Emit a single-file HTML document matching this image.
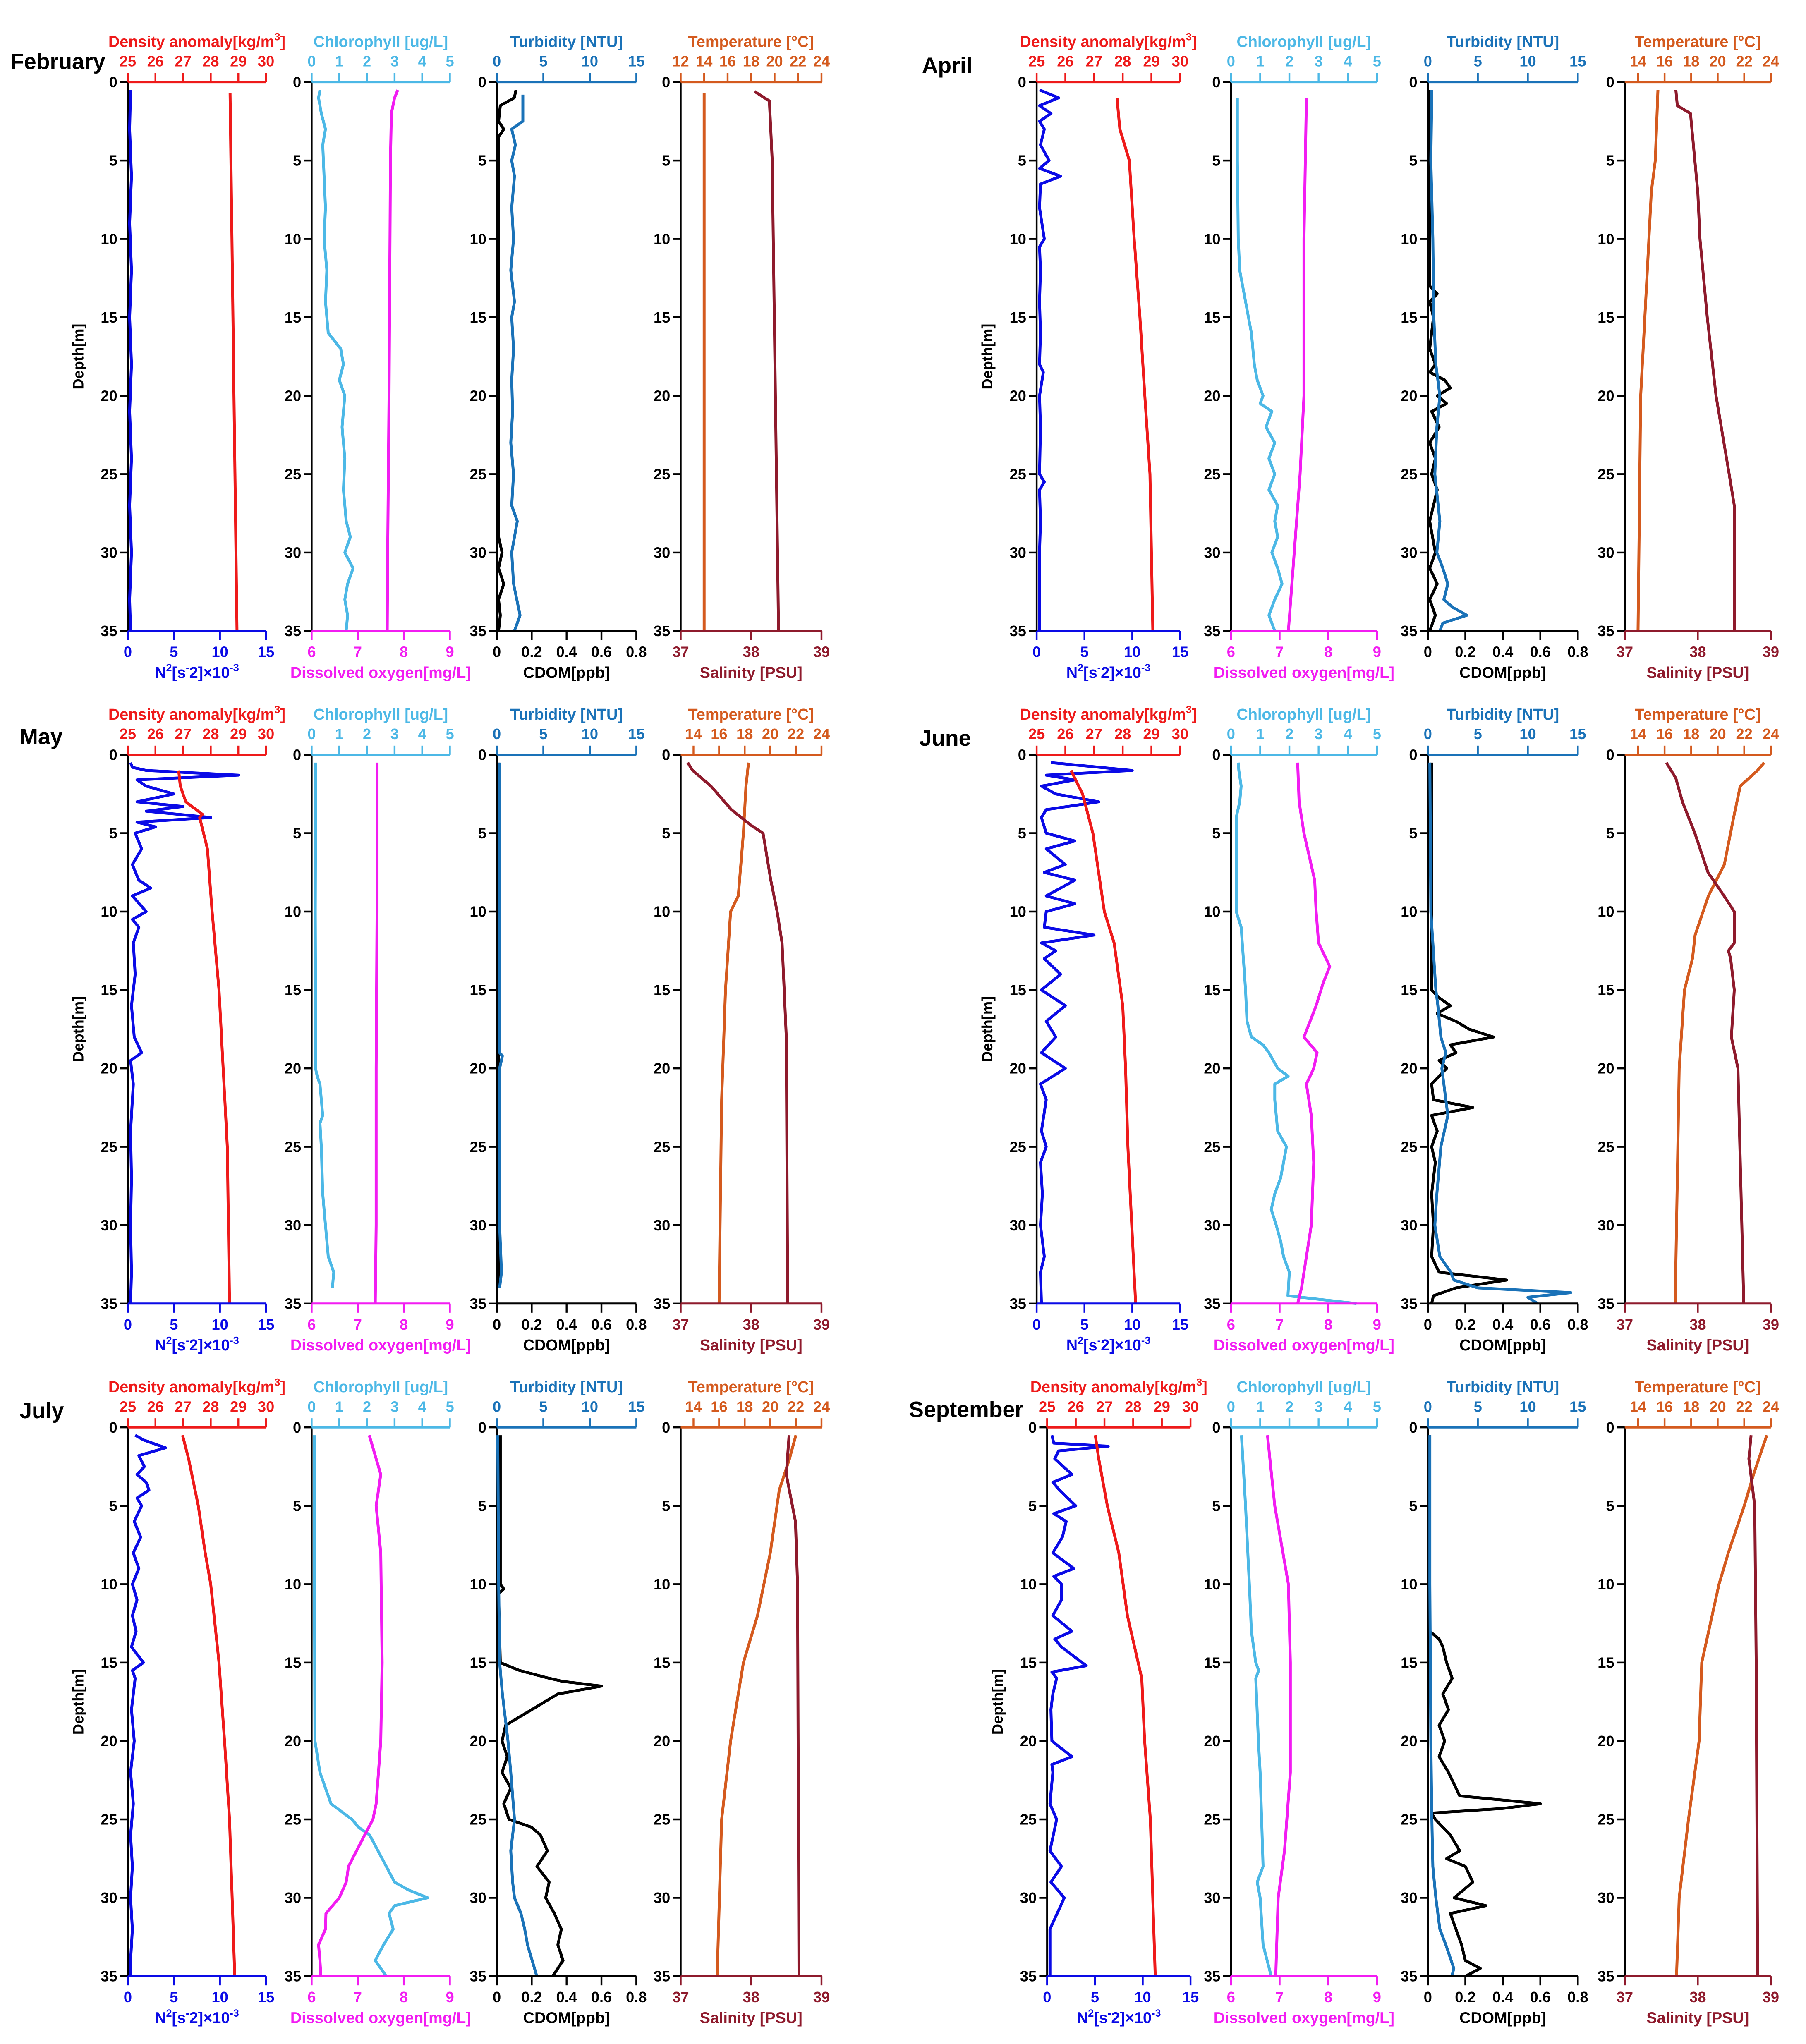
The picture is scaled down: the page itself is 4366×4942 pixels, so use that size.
<!DOCTYPE html>
<html>
<head>
<meta charset="utf-8">
<style>
html,body{margin:0;padding:0;background:#fff;}
svg{display:block;}
text{font-family:"Liberation Sans Narrow","Liberation Sans",sans-serif;font-weight:bold;}
</style>
</head>
<body>
<svg id="chart" xmlns="http://www.w3.org/2000/svg" width="4366" height="4942" viewBox="0 0 1385 1568" preserveAspectRatio="none">
<rect x="0" y="0" width="1385" height="1568" fill="#fff"/>
</svg>
<script>
// ---------- DATA (depth arrays in m, values in physical units) ----------
const febN2D=[0.5,3,6,9,12,15,18,21,24,27,30,33,35];
const febN2=[0.3,0.2,0.4,0.2,0.4,0.2,0.4,0.2,0.4,0.2,0.4,0.2,0.3];
const febDensD=[0.7,35];
const febDens=[28.7,28.95];
const febChlD=[0.5,1,2,3,4,6,8,10,12,14,16,17,18,19,20,22,24,26,28,29,30,31,32,33,34,35];
const febChl=[0.3,0.25,0.35,0.5,0.4,0.45,0.5,0.45,0.55,0.5,0.6,1.05,1.15,1.0,1.2,1.1,1.2,1.15,1.25,1.4,1.2,1.5,1.3,1.2,1.3,1.25];
const febDOD=[0.5,1,2,5,10,20,30,35];
const febDO=[7.87,7.8,7.73,7.71,7.7,7.68,7.65,7.64];
const febTurbD=[0.8,1.5,2.5,3,4,5,6,8,10,12,14,15,17,19,21,23,25,27,28,30,32,34,35];
const febTurb=[2.8,2.8,2.8,1.6,2,1.6,1.9,1.6,1.8,1.5,1.9,1.6,1.8,1.6,1.7,1.5,1.8,1.6,2.2,1.6,1.8,2.5,1.9];
const febCdomD=[0.5,1,1.5,2.5,3,3.5,5,10,15,20,25,29,30,31,32,33,34,35];
const febCdom=[0.11,0.1,0.02,0.01,0.04,0.01,0.01,0.01,0.01,0.01,0.01,0.01,0.03,0.01,0.04,0.01,0.02,0.01];
const febTempD=[0.7,35];
const febTemp=[14,14];
const febSalD=[0.6,1.2,5,15,25,35];
const febSal=[38.05,38.26,38.3,38.33,38.36,38.39];

const aprN2D=[0.5,1,1.5,2,2.5,3,4,5,5.5,6,6.5,8,10,10.5,12,14,16,18,18.5,20,22,25,25.5,26,28,30,33,35];
const aprN2=[0.3,2.3,0.3,1.5,0.3,0.8,0.4,1.3,0.3,2.5,0.4,0.3,0.8,0.3,0.4,0.3,0.4,0.3,0.7,0.3,0.4,0.3,0.8,0.3,0.4,0.3,0.3,0.3];
const aprDensD=[1,3,5,10,15,20,25,35];
const aprDens=[27.8,27.9,28.23,28.4,28.6,28.77,28.95,29.05];
const aprChlD=[1,5,10,12,14,16,18,19,20,20.5,21,22,23,24,25,26,27,28,29,30,31,32,33,34,35];
const aprChl=[0.22,0.22,0.25,0.3,0.5,0.7,0.8,0.9,1.1,1.0,1.4,1.2,1.5,1.3,1.5,1.3,1.6,1.5,1.6,1.4,1.6,1.75,1.5,1.3,1.5];
const aprDOD=[1,10,20,25,30,35];
const aprDO=[7.55,7.5,7.5,7.42,7.3,7.18];
const aprTurbD=[0.5,5,10,15,18,20,22,25,28,30,31,32,33,33.5,34,34.5,35];
const aprTurb=[0.4,0.3,0.5,0.6,0.8,1.2,0.9,0.7,1.2,0.9,1.5,2.0,1.6,2.5,3.9,1.5,1.2];
const aprCdomD=[0.5,10,13,13.5,14,15,17,18,18.5,19,19.5,20,20.5,21,22,23,24,25,26,28,30,31,32,33,34,35];
const aprCdom=[0.01,0.01,0.01,0.05,0.01,0.03,0.01,0.04,0.01,0.09,0.12,0.05,0.1,0.02,0.06,0.01,0.04,0.02,0.05,0.01,0.04,0.01,0.05,0.01,0.04,0.01];
const aprTempD=[0.5,5,7,12,20,35];
const aprTemp=[15.5,15.3,15.0,14.7,14.2,14.0];
const aprSalD=[0.5,1.5,2,5,7,10,15,20,25,27,35];
const aprSal=[37.7,37.72,37.9,37.96,38.0,38.03,38.13,38.25,38.43,38.5,38.5];

const mayN2D=[0.5,0.8,1,1.3,1.6,2,2.5,3,3.3,3.6,4,4.3,4.6,5,6,7,8,8.5,9,10,10.5,11,12,14,16,18,19,19.5,21,24,27,30,33,35];
const mayN2=[0.3,0.5,2,12,1,2,5,1,6,2,9,1,3,0.8,1.5,0.5,1.2,2.5,0.5,2,0.5,1.2,0.6,0.8,0.4,0.7,1.5,0.3,0.6,0.3,0.4,0.3,0.4,0.3];
const mayDensD=[1,2,3,3.8,4,6,10,15,20,25,35];
const mayDens=[26.84,26.9,27.1,27.7,27.6,27.88,28.05,28.3,28.45,28.6,28.68];
const mayChlD=[0.5,5,10,15,20,20.5,21,23,23.5,25,28,30,32,33,34];
const mayChl=[0.14,0.14,0.13,0.14,0.14,0.2,0.3,0.4,0.3,0.35,0.4,0.5,0.6,0.8,0.75];
const mayDOD=[0.5,10,20,30,35];
const mayDO=[7.42,7.42,7.4,7.4,7.38];
const mayTurbD=[0.5,10,19,19.2,20,30,33,34];
const mayTurb=[0.3,0.3,0.3,0.6,0.3,0.3,0.5,0.3];
const mayCdomD=[0.5,34];
const mayCdom=[0.01,0.01];
const mayTempD=[0.5,2,5,9,10,15,22,35];
const mayTemp=[18.3,18.1,17.9,17.5,16.9,16.5,16.2,16.0];
const maySalD=[0.5,1,2,3.5,4.5,5,8,10,12,18,35];
const maySal=[37.1,37.17,37.43,37.72,38.0,38.17,38.28,38.37,38.44,38.5,38.52];

const junN2D=[0.5,1,1.3,1.6,2,2.5,3,3.5,4,5,5.5,6,7,7.5,8,9,9.5,10,11,11.5,12,12.5,13,14,15,16,17,18,19,20,21,22,24,25,26,28,30,32,33,35];
const junN2=[1.5,10,1,4,0.5,2,6.5,1,0.5,1,4,1,3,0.8,4,1,4,1,0.8,6,0.5,2,0.8,2.5,0.5,3,1,2,0.5,3,0.4,1,0.5,1,0.4,0.6,0.4,0.8,0.4,0.5];
const junDensD=[1,2.5,5,8,10,12,16,20,25,35];
const junDens=[26.2,26.6,26.96,27.2,27.36,27.7,28.0,28.1,28.18,28.45];
const junChlD=[0.5,1,2,3,4,10,11,15,17,18,18.5,19,20,20.5,21,22,24,25,27,28,29,30,31,32,33,34.5,35];
const junChl=[0.25,0.27,0.35,0.3,0.18,0.18,0.35,0.5,0.55,0.7,1.1,1.3,1.6,1.96,1.5,1.5,1.6,1.9,1.7,1.5,1.38,1.55,1.7,1.8,2.0,1.95,4.3];
const junDOD=[0.5,3,5,8,10,12,13.5,14.5,16,18,19,20,21,23,26,30,33,34,35];
const junDO=[7.37,7.4,7.5,7.72,7.75,7.8,8.03,7.9,7.75,7.5,7.77,7.7,7.55,7.65,7.7,7.65,7.5,7.45,7.37];
const junTurbD=[0.5,10,15,16,18,19,20,23,25,28,30,32,33,33.5,34,34.3,34.6,35];
const junTurb=[0.2,0.3,0.8,1.0,1.3,1.8,1.4,2.0,1.3,0.9,0.7,1.2,2.3,2.6,5,14.3,10,11];
const junCdomD=[0.5,15,15.5,16,16.5,17,17.5,18,18.5,19,19.5,20,21,22,22.5,23,24,25,26,28,30,32,33,33.5,34,34.5,35];
const junCdom=[0.02,0.02,0.06,0.12,0.05,0.15,0.22,0.35,0.12,0.15,0.06,0.1,0.02,0.03,0.24,0.02,0.05,0.02,0.04,0.02,0.03,0.02,0.06,0.42,0.15,0.03,0.02];
const junTempD=[0.5,1,2,4,7,9,11.5,13,15,20,25,35];
const junTemp=[23.5,23.0,21.7,21.2,20.5,19.3,18.3,18.1,17.5,17.1,17.0,16.8];
const junSalD=[0.5,1.5,3,5,7.5,9,10,12,12.5,13,15,18,20,35];
const junSal=[37.57,37.7,37.79,37.96,38.14,38.36,38.5,38.5,38.42,38.45,38.5,38.46,38.55,38.63];

const julN2D=[0.5,0.8,1.3,1.8,2.5,3,3.5,4,4.5,5,6,7,8,9,10,11,12,13,14,15,15.5,16,18,20,22,24,26,28,30,32,34,35];
const julN2=[0.8,1.7,4.1,1.2,1.8,1.0,2.0,2.3,1.0,1.5,0.7,1.4,0.6,1.2,0.5,1.0,0.5,0.9,0.4,1.7,0.5,0.8,0.4,0.7,0.3,0.6,0.3,0.5,0.3,0.5,0.3,0.3];
const julDensD=[0.5,2,5,8,10,15,20,25,35];
const julDens=[26.98,27.2,27.55,27.8,28.0,28.3,28.5,28.68,28.87];
const julChlD=[0.5,10,20,22,23,24,25,25.5,26,27,28,29,29.5,30,30.5,31,32,33,34,35];
const julChl=[0.1,0.1,0.12,0.3,0.5,0.7,1.46,1.7,2.1,2.4,2.7,3.0,3.5,4.2,3.0,2.8,2.95,2.6,2.3,2.7];
const julDOD=[0.5,3,5,8,15,20,24,25,26,28,29,30,31,32,33,34,35];
const julDO=[7.25,7.5,7.4,7.5,7.53,7.5,7.4,7.33,7.15,6.8,6.75,6.6,6.31,6.3,6.15,6.18,6.2];
const julTurbD=[0.5,10,15,17,19,20,22,25,27,29,30,31,32,33,34,35];
const julTurb=[0.1,0.2,0.3,0.6,1.0,1.2,1.5,1.9,1.5,1.7,1.9,2.6,3.0,3.3,3.8,4.3];
const julCdomD=[0.5,10,10.3,10.6,15,15.5,16,16.2,16.5,17,18,19,20,21,22,23,24,25,25.5,26,27,28,29,30,31,32,33,34,35];
const julCdom=[0.02,0.02,0.04,0.01,0.02,0.13,0.3,0.38,0.6,0.35,0.2,0.05,0.03,0.06,0.03,0.08,0.04,0.07,0.2,0.25,0.29,0.23,0.3,0.28,0.33,0.37,0.35,0.38,0.32];
const julTempD=[0.5,2,4,8,12,15,20,25,35];
const julTemp=[22.0,21.5,20.7,20.0,19.0,17.9,16.9,16.2,15.85];
const julSalD=[0.5,3,6,10,35];
const julSal=[38.54,38.5,38.63,38.66,38.68];

const sepN2D=[0.5,1,1.2,1.5,2,3,3.5,4,5,5.5,6,7,8,9,9.5,10,11,12,13,13.5,14,15.2,15.6,16,17,18,20,21,21.5,22,24,25,27,28,29,30,32,35];
const sepN2=[0.5,0.7,6.4,1.2,0.8,2.6,0.6,1.3,3.0,0.7,2.0,1.6,0.6,2.8,0.7,1.5,1.5,0.6,2.6,0.8,1.5,4.1,0.5,1.0,0.6,0.4,0.5,2.6,0.5,0.6,0.3,1.0,0.3,1.5,0.4,1.8,0.3,0.3];
const sepDensD=[0.5,2,5,8,12,16,20,25,35];
const sepDens=[26.68,26.8,27.1,27.5,27.8,28.3,28.4,28.6,28.77];
const sepChlD=[0.5,5,10,13,15,15.5,16,20,22,25,28,29,30,33,35];
const sepChl=[0.36,0.5,0.63,0.7,0.85,0.95,0.85,0.94,1.0,1.05,1.1,0.9,1.0,1.1,1.38];
const sepDOD=[0.5,5,10,15,22,27,30,35];
const sepDO=[6.75,6.9,7.18,7.22,7.22,7.1,6.97,6.92];
const sepTurbD=[0.5,10,20,25,28,30,32,33,34.5,35];
const sepTurb=[0.2,0.2,0.3,0.4,0.5,0.8,1.2,1.8,2.6,2.4];
const sepCdomD=[0.5,13,13.5,14,15,16,17,18,19,20,21,22,23,23.5,24,24.3,24.6,25,26,27,27.5,28,29,30,30.5,31,32,33,34,34.5,35];
const sepCdom=[0.01,0.01,0.06,0.08,0.1,0.13,0.08,0.11,0.06,0.09,0.06,0.11,0.15,0.17,0.6,0.4,0.02,0.04,0.12,0.17,0.1,0.2,0.24,0.14,0.31,0.12,0.15,0.18,0.2,0.28,0.2];
const sepTempD=[0.5,3,5,8,10,15,20,25,30,35];
const sepTemp=[23.7,22.7,22.0,20.8,20.1,18.8,18.6,17.8,17.1,16.9];
const sepSalD=[0.5,2,5,15,35];
const sepSal=[38.73,38.7,38.78,38.8,38.82];

const depthTicks=[0,5,10,15,20,25,30,35];
const densTicks=[25,26,27,28,29,30];
const n2Ticks=[0,5,10,15];
const chlTicks=[0,1,2,3,4,5];
const doTicks=[6,7,8,9];
const turbTicks=[0,5,10,15];
const cdomTicks=[0,0.2,0.4,0.6,0.8];
const tempTicksFeb=[12,14,16,18,20,22,24];
const tempTicks=[14,16,18,20,22,24];
const salTicks=[37,38,39];

// ---------- DRAWING ----------
const NS='http://www.w3.org/2000/svg';
const svg=document.getElementById('chart');
function mk(tag,attrs,parent){const e=document.createElementNS(NS,tag);for(const k in attrs)e.setAttribute(k,attrs[k]);(parent||svg).appendChild(e);return e;}

const C={n2:'#0a0ae6',dens:'#ee1a1a',chl:'#4cb8e6',dox:'#f21cf2',turb:'#1a72b8',cdom:'#000000',temp:'#d45a1e',sal:'#8e1a2c'};
const H=421;

function depthY(y0,d){return y0+d/35*H;}

function drawSub(g,x0,x1,y0,top,bot,series,showDepthLabel,depthLabelX){
  const sx=(ax,v)=>x0+(v-ax.min)/(ax.max-ax.min)*(x1-x0);
  const yb=y0+H;
  const la=mk('line',{x1:x0,y1:y0,x2:x0,y2:yb,stroke:'#000','stroke-width':1.4},g);
  
  
  depthTicks.forEach(t=>{
    const y=depthY(y0,t);
    const tl=mk('line',{x1:x0-6,y1:y,x2:x0,y2:y,stroke:'#000','stroke-width':1.4},g);
    
    
    const tx=mk('text',{x:x0-8,y:y+4,'text-anchor':'end','font-size':11.5,fill:'#000'},g);
    tx.textContent=t;
    
    
  });
  if(showDepthLabel){
    const dl=mk('text',{x:depthLabelX,y:y0+H/2,'text-anchor':'middle','font-size':11.5,fill:'#000',transform:`rotate(-90 ${depthLabelX} ${y0+H/2})`},g);
    dl.textContent='Depth[m]';
    
    
  }
  series.forEach(s=>{
    const ax=s.axis==='top'?top:bot;
    const pts=s.d.map((d,i)=>sx(ax,s.v[i]).toFixed(2)+','+depthY(y0,d).toFixed(2)).join(' ');
    const pl=mk('polyline',{points:pts,fill:'none',stroke:s.color,'stroke-width':2.2,'stroke-linejoin':'round'},g);
    
    
  });
  const ta=mk('line',{x1:x0,y1:y0,x2:x1,y2:y0,stroke:top.color,'stroke-width':1.6},g);
  
  
  top.ticks.forEach(t=>{
    const x=sx(top,t);
    const tl=mk('line',{x1:x,y1:y0,x2:x,y2:y0-7,stroke:top.color,'stroke-width':1.4},g);
    
    
    const tx=mk('text',{x:x,y:y0-12,'text-anchor':'middle','font-size':11.5,fill:top.color},g);
    tx.textContent=t;
    
    
  });
  const tt=mk('text',{x:(x0+x1)/2,y:y0-27,'text-anchor':'middle','font-size':12,fill:top.color},g);
  tt.innerHTML=top.label;
  
  
  const ba=mk('line',{x1:x0,y1:yb,x2:x1,y2:yb,stroke:bot.color,'stroke-width':1.6},g);
  
  
  bot.ticks.forEach(t=>{
    const x=sx(bot,t);
    const tl=mk('line',{x1:x,y1:yb,x2:x,y2:yb+7,stroke:bot.color,'stroke-width':1.4},g);
    
    
    const tx=mk('text',{x:x,y:yb+20,'text-anchor':'middle','font-size':11.5,fill:bot.color},g);
    tx.textContent=t;
    
    
  });
  const bt=mk('text',{x:(x0+x1)/2,y:yb+36,'text-anchor':'middle','font-size':12,fill:bot.color},g);
  bt.innerHTML=bot.label;
  
  
}

const LEFT=[[98,204],[239,345],[381,488],[522,630]];
const RIGHT=[[795,905],[944,1056],[1095,1210],[1246,1358]];
const SEPT=[[803,913],[944,1056],[1095,1210],[1246,1358]];
const ROWS=[63,579,1095];

const panels=[
 {key:'february',title:'February',tx:8,ty:53,row:0,cols:LEFT,dlx:64,feb:true,
  s:[febN2D,febN2,febDensD,febDens,febChlD,febChl,febDOD,febDO,febTurbD,febTurb,febCdomD,febCdom,febTempD,febTemp,febSalD,febSal]},
 {key:'april',title:'April',tx:707,ty:56,row:0,cols:RIGHT,dlx:761,
  s:[aprN2D,aprN2,aprDensD,aprDens,aprChlD,aprChl,aprDOD,aprDO,aprTurbD,aprTurb,aprCdomD,aprCdom,aprTempD,aprTemp,aprSalD,aprSal]},
 {key:'may',title:'May',tx:15,ty:571,row:1,cols:LEFT,dlx:64,
  s:[mayN2D,mayN2,mayDensD,mayDens,mayChlD,mayChl,mayDOD,mayDO,mayTurbD,mayTurb,mayCdomD,mayCdom,mayTempD,mayTemp,maySalD,maySal]},
 {key:'june',title:'June',tx:705,ty:572,row:1,cols:RIGHT,dlx:761,
  s:[junN2D,junN2,junDensD,junDens,junChlD,junChl,junDOD,junDO,junTurbD,junTurb,junCdomD,junCdom,junTempD,junTemp,junSalD,junSal]},
 {key:'july',title:'July',tx:15,ty:1088,row:2,cols:LEFT,dlx:64,
  s:[julN2D,julN2,julDensD,julDens,julChlD,julChl,julDOD,julDO,julTurbD,julTurb,julCdomD,julCdom,julTempD,julTemp,julSalD,julSal]},
 {key:'september',title:'September',tx:697,ty:1087,row:2,cols:SEPT,dlx:769,
  s:[sepN2D,sepN2,sepDensD,sepDens,sepChlD,sepChl,sepDOD,sepDO,sepTurbD,sepTurb,sepCdomD,sepCdom,sepTempD,sepTemp,sepSalD,sepSal]}
];

panels.forEach(p=>{
  const g=mk('g',{});
  
  
  const t=mk('text',{x:p.tx,y:p.ty,'font-size':17,fill:'#000'},g);
  t.textContent=p.title;
  
  
  const y0=ROWS[p.row];
  const s=p.s;
  const densAx={min:25,max:30,ticks:densTicks,color:C.dens,label:'Density anomaly[kg/m<tspan dy="-5" font-size="8">3</tspan><tspan dy="5">]</tspan>'};
  const n2Ax={min:0,max:15,ticks:n2Ticks,color:C.n2,label:'N<tspan dy="-5" font-size="8">2</tspan><tspan dy="5">[s</tspan><tspan dy="-5" font-size="8">-</tspan><tspan dy="5">2]×10</tspan><tspan dy="-5" font-size="8">-3</tspan>'};
  const chlAx={min:0,max:5,ticks:chlTicks,color:C.chl,label:'Chlorophyll [ug/L]'};
  const doAx={min:6,max:9,ticks:doTicks,color:C.dox,label:'Dissolved oxygen[mg/L]'};
  const turbAx={min:0,max:15,ticks:turbTicks,color:C.turb,label:'Turbidity [NTU]'};
  const cdomAx={min:0,max:0.8,ticks:cdomTicks,color:C.cdom,label:'CDOM[ppb]'};
  const tempAx=p.feb?{min:12,max:24,ticks:tempTicksFeb,color:C.temp,label:'Temperature [°C]'}:{min:13,max:24,ticks:tempTicks,color:C.temp,label:'Temperature [°C]'};
  const salAx={min:37,max:39,ticks:salTicks,color:C.sal,label:'Salinity [PSU]'};
  const c=p.cols;
  const g1=mk('g',{},g);
  drawSub(g1,c[0][0],c[0][1],y0,densAx,n2Ax,[
    {d:s[0],v:s[1],axis:'bot',color:C.n2,name:'n2-profile'},
    {d:s[2],v:s[3],axis:'top',color:C.dens,name:'density-profile'}],true,p.dlx);
  const g2=mk('g',{},g);
  drawSub(g2,c[1][0],c[1][1],y0,chlAx,doAx,[
    {d:s[4],v:s[5],axis:'top',color:C.chl,name:'chlorophyll-profile'},
    {d:s[6],v:s[7],axis:'bot',color:C.dox,name:'oxygen-profile'}],false);
  const g3=mk('g',{},g);
  drawSub(g3,c[2][0],c[2][1],y0,turbAx,cdomAx,[
    {d:s[10],v:s[11],axis:'bot',color:C.cdom,name:'cdom-profile'},
    {d:s[8],v:s[9],axis:'top',color:C.turb,name:'turbidity-profile'}],false);
  const g4=mk('g',{},g);
  drawSub(g4,c[3][0],c[3][1],y0,tempAx,salAx,[
    {d:s[12],v:s[13],axis:'top',color:C.temp,name:'temperature-profile'},
    {d:s[14],v:s[15],axis:'bot',color:C.sal,name:'salinity-profile'}],false);
});
</script>
</body>
</html>
